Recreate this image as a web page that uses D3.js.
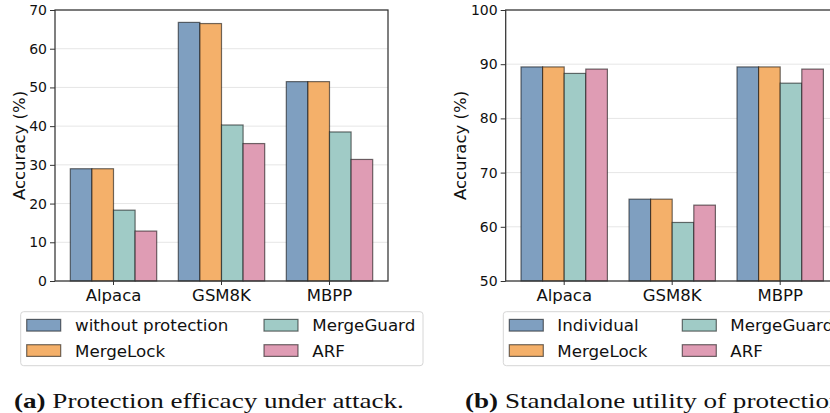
<!DOCTYPE html>
<html>
<head>
<meta charset="utf-8">
<script src="https://cdn.jsdelivr.net/npm/d3@7"></script>
<style>
  html, body { margin: 0; padding: 0; background: #fff; }
  svg { display: block; }
</style>
</head>
<body>
<svg id="chart" width="830" height="413"></svg>
<script>
// ---------------- data ----------------
const categories = ["Alpaca", "GSM8K", "MBPP"];
const seriesNamesA = ["without protection", "MergeLock", "MergeGuard", "ARF"];
const seriesNamesB = ["Individual", "MergeLock", "MergeGuard", "ARF"];
const seriesColors = ["#7f9fc0", "#f4b06a", "#a0cbc6", "#df9cb4"];

// (a) accuracy under attack
const attackWithoutProtection = [29.0, 66.8, 51.5];
const attackMergeLock = [29.0, 66.5, 51.5];
const attackMergeGuard = [18.3, 40.3, 38.5];
const attackARF = [12.9, 35.5, 31.4];

// (b) standalone utility
const utilIndividual = [89.5, 65.1, 89.5];
const utilMergeLock = [89.5, 65.1, 89.5];
const utilMergeGuard = [88.3, 60.8, 86.5];
const utilARF = [89.1, 64.0, 89.1];

const ticksA = [0, 10, 20, 30, 40, 50, 60, 70];
const ticksB = [50, 60, 70, 80, 90, 100];
const yLabel = "Accuracy (%)";
const captionA = ["(a)", " Protection efficacy under attack."];
const captionB = ["(b)", " Standalone utility of protection."];

// ---------------- drawing ----------------
const svg = d3.select("#chart");
const FONT = "'DejaVu Sans', sans-serif";

function drawPanel(opts) {
  const { left, right, top, bottom, domain, ticks, series, names, labelX, legend } = opts;
  const g = svg.append("g");

  const x0 = d3.scaleBand().domain(categories).range([left, right])
    .paddingInner(0.2).paddingOuter(0.1417);
  const x1 = d3.scaleBand().domain(d3.range(series.length)).range([0, x0.bandwidth()]);
  const y = d3.scaleLinear().domain(domain).range([bottom, top]);

  // grid
  g.append("g").selectAll("line").data(ticks).join("line")
    .attr("x1", left).attr("x2", right)
    .attr("y1", d => y(d)).attr("y2", d => y(d))
    .attr("stroke", "#e6e6e6").attr("stroke-width", 1);

  // bars
  series.forEach((vals, j) => {
    g.append("g").selectAll("rect").data(vals).join("rect")
      .attr("x", (d, i) => x0(categories[i]) + x1(j))
      .attr("y", d => y(d))
      .attr("width", x1.bandwidth())
      .attr("height", d => y(domain[0]) - y(d))
      .attr("fill", seriesColors[j])
      .attr("stroke", "rgba(0,0,0,0.55)")
      .attr("stroke-width", 1.2);
  });

  // axes
  const ya = g.append("g").attr("transform", `translate(${left},0)`)
    .call(d3.axisLeft(y).tickValues(ticks).tickSize(5).tickPadding(3).tickFormat(d3.format("d")));
  ya.select(".domain").remove();
  ya.selectAll("line").attr("stroke", "#333").attr("stroke-width", 1);
  ya.selectAll("text").attr("font-family", FONT).attr("font-size", 14).attr("fill", "#111");

  const xa = g.append("g").attr("transform", `translate(0,${bottom})`)
    .call(d3.axisBottom(x0).tickSize(4).tickPadding(4));
  xa.select(".domain").remove();
  xa.selectAll("line").attr("stroke", "#333").attr("stroke-width", 1);
  xa.selectAll("text").attr("font-family", FONT).attr("font-size", 16.5).attr("fill", "#111");

  // frame
  g.append("rect").attr("x", left).attr("y", top)
    .attr("width", right - left).attr("height", bottom - top)
    .attr("fill", "none").attr("stroke", "#333").attr("stroke-width", 1.25);

  // y label
  g.append("text")
    .attr("transform", `translate(${labelX},${(top + bottom) / 2}) rotate(-90)`)
    .attr("text-anchor", "middle").attr("dominant-baseline", "central")
    .attr("font-family", FONT).attr("font-size", 16.5).attr("fill", "#111")
    .text(yLabel);

  // legend
  const lg = g.append("g");
  lg.append("rect").attr("x", legend.x).attr("y", legend.y)
    .attr("width", legend.w).attr("height", legend.h).attr("rx", 3)
    .attr("fill", "#fff").attr("stroke", "#d6d6d6").attr("stroke-width", 1);
  names.forEach((name, j) => {
    const col = Math.floor(j / 2), row = j % 2;
    const px = legend.x + legend.colOffsets[col];
    const cy = legend.y + 13.5 + row * 25.3;
    lg.append("rect").attr("x", px).attr("y", cy - 5.8)
      .attr("width", 34).attr("height", 11.7)
      .attr("fill", seriesColors[j])
      .attr("stroke", "rgba(0,0,0,0.55)").attr("stroke-width", 1.2);
    lg.append("text").attr("x", px + legend.textGap).attr("y", cy)
      .attr("dominant-baseline", "central")
      .attr("font-family", FONT).attr("font-size", 16.7).attr("fill", "#111")
      .text(name);
  });
}

drawPanel({
  left: 55, right: 388, top: 10, bottom: 281,
  domain: [0, 70], ticks: ticksA, names: seriesNamesA,
  series: [attackWithoutProtection, attackMergeLock, attackMergeGuard, attackARF],
  labelX: 19,
  legend: { x: 20.7, y: 311.7, w: 402.3, h: 54, colOffsets: [6, 243.3], textGap: 48.3 }
});

drawPanel({
  left: 505.7, right: 838.7, top: 10, bottom: 281,
  domain: [50, 100], ticks: ticksB, names: seriesNamesB,
  series: [utilIndividual, utilMergeLock, utilMergeGuard, utilARF],
  labelX: 460,
  legend: { x: 503.3, y: 311.7, w: 340, h: 54, colOffsets: [6, 179], textGap: 48 }
});

// captions
const SERIF = "'Liberation Serif', 'Times New Roman', serif";
function caption(parts, x, yb) {
  const t = svg.append("text").attr("transform", `translate(${x},${yb})`)
    .attr("font-family", SERIF).attr("font-size", 22).attr("fill", "#111");
  t.append("tspan").attr("font-weight", "bold").text(parts[0]);
  t.append("tspan").text(parts[1]);
  return t;
}
const ca = caption(captionA, 14, 408);
const natural = ca.node().getComputedTextLength();
const k = 390 / natural;
ca.attr("transform", `translate(14,408) scale(${k},1)`);
const cb = caption(captionB, 465, 408);
cb.attr("transform", `translate(465,408) scale(${k},1)`);
</script>
</body>
</html>
